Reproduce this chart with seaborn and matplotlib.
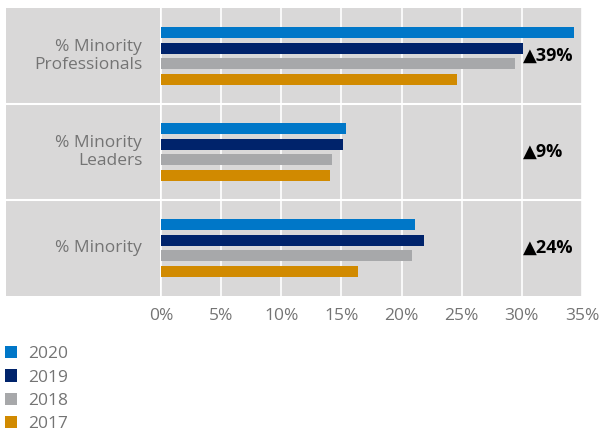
import matplotlib
matplotlib.use("Agg")
import matplotlib.pyplot as plt
from matplotlib.patches import Patch
from matplotlib.ticker import FuncFormatter
import pandas as pd
import seaborn as sns

# chart data
categories = ["% Minority\nProfessionals", "% Minority\nLeaders", "% Minority"]
years = ["2020", "2019", "2018", "2017"]
values_2020 = [34.3, 15.4, 21.1]
values_2019 = [30.1, 15.1, 21.9]
values_2018 = [29.4, 14.2, 20.9]
values_2017 = [24.6, 14.05, 16.4]
changes = ["\u25b239%", "\u25b29%", "\u25b224%"]
colors = ["#0077c8", "#00236b", "#a7a8aa", "#d18a00"]

BG = "#d9d8d8"
TXT = "#747474"
FONT = ["Open Sans", "DejaVu Sans"]

series = [values_2020, values_2019, values_2018, values_2017]
rows = []
for year, vals in zip(years, series):
    for cat, v in zip(categories, vals):
        rows.append({"category": cat, "year": year, "value": v})
df = pd.DataFrame(rows)

plt.rcParams["font.family"] = FONT

W, H = 601, 434
fig = plt.figure(figsize=(W / 100, H / 100), dpi=100)

# main bar panel
ax = fig.add_axes([161 / W, 1 - 296 / H, 421 / W, 288 / H])
ax.set_facecolor(BG)
sns.barplot(
    data=df, y="category", x="value", hue="year",
    order=categories, hue_order=years, palette=colors, saturation=1,
    orient="h", width=0.66, gap=0.3, legend=False, ax=ax,
)
ax.set_xlim(0, 35)
ax.set_ylim(2.5, -0.5)
ax.set_xticks(range(0, 36, 5))
ax.xaxis.set_major_formatter(FuncFormatter(lambda v, p: f"{v:.0f}%"))
ax.grid(axis="x", color="white", linewidth=1.2)
ax.set_axisbelow(True)
for y in (0.5, 1.5):
    ax.axhline(y, color="white", linewidth=1.5, zorder=0.5)
ax.set_yticks([])
ax.set_xlabel("")
ax.set_ylabel("")
ax.tick_params(axis="x", length=0, pad=9, labelsize=12.5, labelcolor=TXT)
for s in ax.spines.values():
    s.set_visible(False)

for i, txt in enumerate(changes):
    ax.text(30.1, i, txt, ha="left", va="center", fontsize=13,
            fontweight="bold", color="black", family=FONT)

# label panel on the left
lab = fig.add_axes([6 / W, 1 - 296 / H, 154 / W, 288 / H])
lab.set_facecolor(BG)
lab.set_xlim(0, 1)
lab.set_ylim(2.5, -0.5)
for y in (0.5, 1.5):
    lab.axhline(y, color="white", linewidth=1.5)
for i, cat in enumerate(categories):
    lab.text(0.885, i, cat, ha="right", va="center", fontsize=12.5,
             color=TXT, linespacing=1.1)
lab.set_xticks([])
lab.set_yticks([])
for s in lab.spines.values():
    s.set_visible(False)

# legend
handles = [Patch(facecolor=c, edgecolor="none") for c in colors]
fig.legend(
    handles, years, loc="upper left", bbox_to_anchor=(5 / W, 1 - 346 / H),
    frameon=False, fontsize=12.5, labelcolor=TXT, borderpad=0,
    borderaxespad=0, handlelength=0.7, handleheight=0.7,
    handletextpad=0.65, labelspacing=0.42,
)

fig.savefig("out.png", dpi=100)
plt.close(fig)
